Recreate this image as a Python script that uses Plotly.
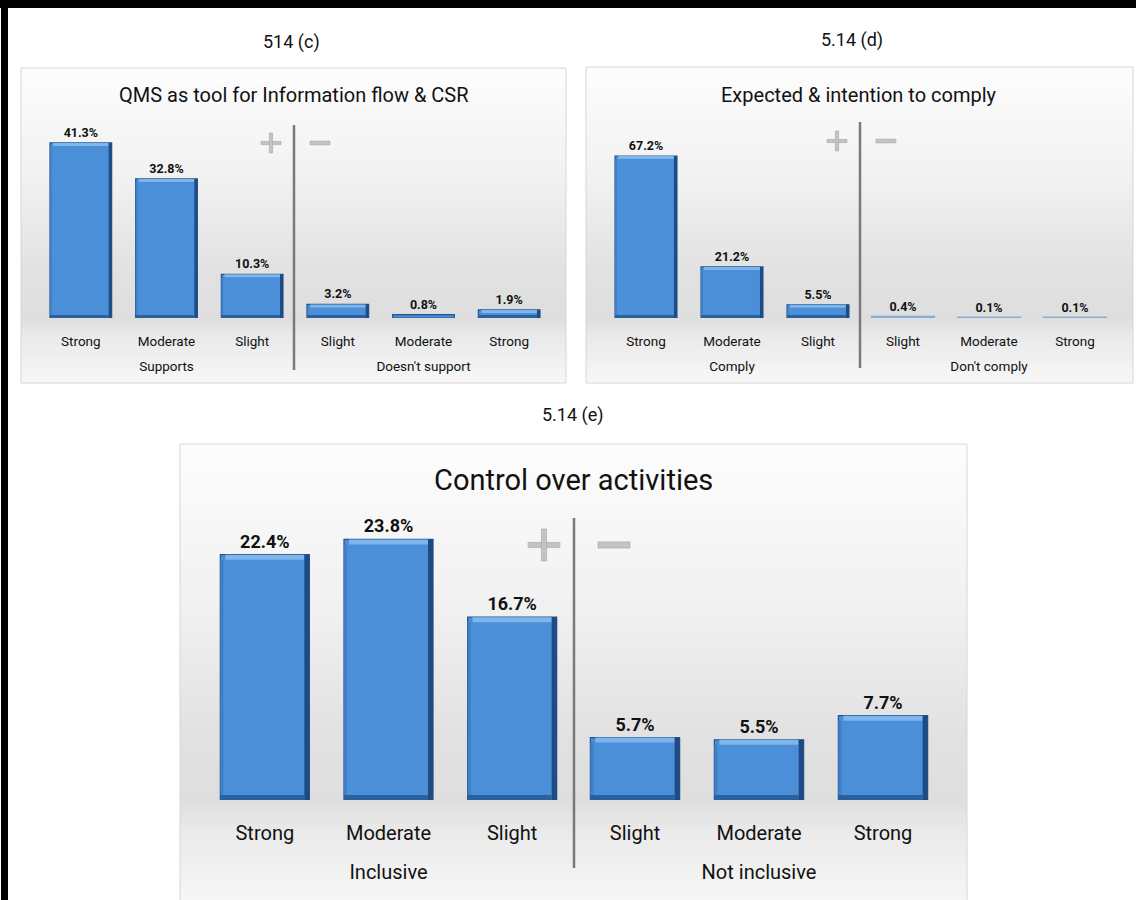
import plotly.graph_objects as go

# ---- data -------------------------------------------------------------
levels_pos = ["Strong", "Moderate", "Slight"]
levels_neg = ["Slight", "Moderate", "Strong"]

qms_supports = [41.3, 32.8, 10.3]
qms_doesnt_support = [3.2, 0.8, 1.9]

comply_yes = [67.2, 21.2, 5.5]
comply_no = [0.4, 0.1, 0.1]

control_inclusive = [22.4, 23.8, 16.7]
control_not_inclusive = [5.7, 5.5, 7.7]

# ---- page geometry (pixels) -------------------------------------------
W, H = 1136, 900
FONT = "Roboto, Liberation Sans, sans-serif"
BAR_FILL = "#4b8fd8"
BAR_EDGE = "#24558f"
THIN_EDGE = "#86aed6"
BARGAP = 0.28


def fx(px):
    return px / W


def fy(py):
    return 1 - py / H


panels = [
    dict(box=(21, 68, 566, 383), caption="514 (c)", cap_xy=(291, 42), cap_size=18,
         title="QMS as tool for Information flow & CSR", title_xy=(294, 95), title_size=20,
         left=(38, 295), right=(295, 552), base=318, top=118, ppu=4.24,
         groups=("Supports", "Doesn't support"),
         values=(qms_supports, qms_doesnt_support),
         val_size=12.5, tick_size=13.5, group_size=13.5, ticklen=11, standoff=13, bevel=3,
         divider=(294, 125, 370), plus=(271, 143, 10), minus=(320, 143, 10)),
    dict(box=(586, 67, 1133, 383), caption="5.14 (d)", cap_xy=(852, 40), cap_size=18,
         title="Expected & intention to comply", title_xy=(859, 95), title_size=20,
         left=(603, 861), right=(860, 1118), base=318, top=118, ppu=2.41,
         groups=("Comply", "Don't comply"),
         values=(comply_yes, comply_no),
         val_size=12.5, tick_size=13.5, group_size=13.5, ticklen=11, standoff=13, bevel=3,
         divider=(860, 122, 368), plus=(837, 141, 10), minus=(886, 141, 10)),
    dict(box=(180, 444, 967, 905), caption="5.14 (e)", cap_xy=(573, 415), cap_size=18,
         title="Control over activities", title_xy=(573, 480), title_size=29,
         left=(203, 574), right=(573, 945), base=800, top=500, ppu=10.95,
         groups=("Inclusive", "Not inclusive"),
         values=(control_inclusive, control_not_inclusive),
         val_size=18, tick_size=20, group_size=20, ticklen=15, standoff=20, bevel=5,
         divider=(574, 518, 868), plus=(544, 545, 16), minus=(614, 545, 16)),
]

fig = go.Figure()
shapes = []
annotations = []
layout_axes = {}


def gray_at(y, top, base, bottom):
    # soft vertical gradient: white at the top, grey just above the baseline,
    # lightening again underneath
    if y <= base:
        t = (y - top) / (base - top)
        stops = [(0.0, 253), (0.45, 241), (0.8, 226), (1.0, 222)]
    else:
        t = (y - base) / max(bottom - base, 1)
        stops = [(0.0, 222), (0.3, 234), (1.0, 247)]
    for (t0, g0), (t1, g1) in zip(stops, stops[1:]):
        if t <= t1:
            g = g0 + (g1 - g0) * (t - t0) / (t1 - t0)
            return int(round(g))
    return stops[-1][1]


def bevel_shapes(xref, yref, vals, spacing_px, ppu, b):
    """Bevel edges for each bar, derived from the bar values."""
    out = []
    hw = (1 - BARGAP) / 2
    bx = b / spacing_px
    by = b / ppu
    for i, v in enumerate(vals):
        h_px = v * ppu
        if h_px < 2 * b + 2:
            continue
        common = dict(type="rect", xref=xref, yref=yref, line=dict(width=0), layer="above")
        # lit top face
        out.append(dict(common, x0=i - hw + bx, x1=i + hw - bx, y0=v - by, y1=v,
                        fillcolor="#7db5ec"))
        # lighter left edge
        out.append(dict(common, x0=i - hw, x1=i - hw + bx * 0.6, y0=by, y1=v - by,
                        fillcolor="#3f7fc6"))
        # shaded right edge
        out.append(dict(common, x0=i + hw - bx, x1=i + hw, y0=0, y1=v,
                        fillcolor="#1e4b82"))
        # shaded bottom edge
        out.append(dict(common, x0=i - hw, x1=i + hw - bx, y0=0, y1=by,
                        fillcolor="#2b609e"))
    return out


ax_i = 0
for pi, p in enumerate(panels):
    x0, y0, x1, y1 = p["box"]
    # gradient background strips
    step = 3
    yy = y0
    while yy < y1:
        g = gray_at(yy + step / 2, y0, p["base"], y1)
        shapes.append(dict(type="rect", xref="paper", yref="paper",
                           x0=fx(x0), x1=fx(x1), y0=fy(min(yy + step, y1)), y1=fy(yy),
                           fillcolor=f"rgb({g},{g},{g})", line=dict(width=0), layer="below"))
        yy += step
    shapes.append(dict(type="rect", xref="paper", yref="paper",
                       x0=fx(x0), x1=fx(x1), y0=fy(y1), y1=fy(y0),
                       line=dict(color="#d6d6d6", width=1), fillcolor="rgba(0,0,0,0)", layer="below"))

    # caption and chart title
    annotations.append(dict(text=p["caption"], x=fx(p["cap_xy"][0]), y=fy(p["cap_xy"][1]),
                            xref="paper", yref="paper", showarrow=False,
                            font=dict(family=FONT, size=p["cap_size"], color="#111"),
                            xanchor="center", yanchor="middle"))
    annotations.append(dict(text=p["title"], x=fx(p["title_xy"][0]), y=fy(p["title_xy"][1]),
                            xref="paper", yref="paper", showarrow=False,
                            font=dict(family=FONT, size=p["title_size"], color="#111"),
                            xanchor="center", yanchor="middle"))

    # divider between the two groups, plus / minus marks
    dx, dy0, dy1 = p["divider"]
    shapes.append(dict(type="line", xref="paper", yref="paper",
                       x0=fx(dx), x1=fx(dx), y0=fy(dy1), y1=fy(dy0),
                       line=dict(color="#7a7a7a", width=2.5)))
    px_, py_, r = p["plus"]
    th = max(2, r * 0.32)
    mark = dict(type="rect", xref="paper", yref="paper",
                fillcolor="#c3c3c3", line=dict(color="#a8a8a8", width=0.6))
    shapes.append(dict(mark, x0=fx(px_ - r), x1=fx(px_ + r),
                       y0=fy(py_ + th / 2), y1=fy(py_ - th / 2)))
    shapes.append(dict(mark, x0=fx(px_ - th / 2), x1=fx(px_ + th / 2),
                       y0=fy(py_ + r), y1=fy(py_ - r)))
    mx, my, mr = p["minus"]
    shapes.append(dict(mark, x0=fx(mx - mr), x1=fx(mx + mr),
                       y0=fy(my + th * 0.6), y1=fy(my - th * 0.6)))

    # axes: one y axis per panel, two x axes (one per group)
    yi = pi + 1
    yname = "yaxis" if yi == 1 else f"yaxis{yi}"
    yref = "y" if yi == 1 else f"y{yi}"
    ymax = (p["base"] - p["top"]) / p["ppu"]
    for gi, (dom, cats, vals, grp) in enumerate(zip((p["left"], p["right"]),
                                                    (levels_pos, levels_neg),
                                                    p["values"], p["groups"])):
        ax_i += 1
        xname = "xaxis" if ax_i == 1 else f"xaxis{ax_i}"
        xref = "x" if ax_i == 1 else f"x{ax_i}"
        layout_axes[xname] = dict(
            domain=[fx(dom[0]), fx(dom[1])], anchor=yref, type="category",
            categoryorder="array", categoryarray=cats,
            showgrid=False, zeroline=False, showline=False,
            ticks="outside", ticklen=p["ticklen"], tickcolor="rgba(0,0,0,0)",
            tickfont=dict(family=FONT, size=p["tick_size"], color="#111"),
            title=dict(text=grp, standoff=p["standoff"],
                       font=dict(family=FONT, size=p["group_size"], color="#111")),
            fixedrange=True,
        )
        # bars too short to show a face are drawn as a pale sliver
        edges = [BAR_EDGE if v * p["ppu"] >= 3 else THIN_EDGE for v in vals]
        widths = [1.2 if v * p["ppu"] >= 3 else 2.5 for v in vals]
        fig.add_trace(go.Bar(
            x=cats, y=vals, xaxis=xref, yaxis=yref,
            marker=dict(color=BAR_FILL, line=dict(color=edges, width=widths)),
            text=[f"{v:.1f}%" for v in vals], textposition="outside",
            textfont=dict(family=FONT, size=p["val_size"], color="#111", weight="bold"),
            cliponaxis=False, showlegend=False, hoverinfo="skip",
        ))
        spacing_px = (dom[1] - dom[0]) / len(cats)
        shapes.extend(bevel_shapes(xref, yref, vals, spacing_px, p["ppu"], p["bevel"]))
        if gi == 0:
            layout_axes[yname] = dict(
                domain=[fy(p["base"]), fy(p["top"])], anchor=xref,
                range=[0, ymax], visible=False, fixedrange=True,
            )

# page frame
shapes.append(dict(type="rect", xref="paper", yref="paper", x0=0, x1=1, y0=fy(8), y1=1,
                   fillcolor="#000", line=dict(width=0)))
shapes.append(dict(type="rect", xref="paper", yref="paper", x0=fx(1), x1=fx(8), y0=0, y1=1,
                   fillcolor="#000", line=dict(width=0)))

fig.update_layout(
    width=W, height=H, margin=dict(l=0, r=0, t=0, b=0),
    paper_bgcolor="white", plot_bgcolor="rgba(0,0,0,0)",
    bargap=BARGAP, showlegend=False,
    shapes=shapes, annotations=annotations,
    **layout_axes,
)

fig.write_html("out.html", config={"displayModeBar": False})
